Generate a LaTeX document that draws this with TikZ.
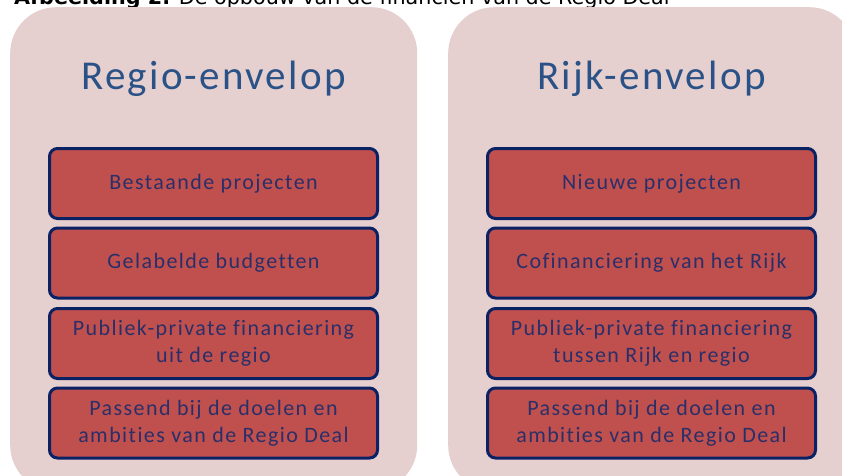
\documentclass[tikz,border=0pt]{standalone}
\usepackage{fontspec}
\setmainfont{Carlito}
\newfontfamily\capfont{DejaVu Sans}
\newfontfamily\titlefont[LetterSpace=5.5,Ligatures=NoCommon]{Carlito}
\newfontfamily\boxfont[LetterSpace=6.5,Ligatures=NoCommon]{Carlito}
\definecolor{panelfill}{HTML}{E6CFCF}
\definecolor{boxfill}{HTML}{C0504D}
\definecolor{boxline}{HTML}{0A2164}
\definecolor{boxtext}{HTML}{2A2F6A}
\definecolor{titleblue}{HTML}{2A5286}
\tikzset{
  panel/.style={fill=panelfill, draw=none, rounded corners=46pt, minimum width=407pt, minimum height=484pt, inner sep=0pt},
  itembox/.style={fill=boxfill, draw=boxline, line width=3pt, rounded corners=8pt, minimum width=328pt, minimum height=70pt, inner sep=0pt, align=center, text=boxtext, font=\boxfont\fontsize{22}{27}\selectfont},
  paneltitle/.style={text=titleblue, font=\titlefont\fontsize{41}{45}\selectfont, anchor=base, inner sep=0pt},
}
\begin{document}
\begin{tikzpicture}[x=1pt,y=-1pt]
\useasboundingbox (0,0) rectangle (842,475);
\clip (0,0) rectangle (842,475);
\fill[white] (0,0) rectangle (842,475);
\node[anchor=base west, inner sep=0pt, font=\capfont\fontsize{20.7}{22}\selectfont] (cap) at (14,4.3) {\textbf{Afbeelding 2.} De opbouw van de financiën van de Regio Deal};
\node[panel, anchor=north west] (lp) at (10,7) {};
\node[panel, anchor=north west] (rp) at (448,7) {};
\node[paneltitle] (lt) at (213.5,89.3) {Regio-envelop};
\node[paneltitle] (rt) at (651.5,89.3) {Rijk-envelop};
\node[itembox] (l1) at (213.5,183.5) {Bestaande projecten};
\node[itembox] (l2) at (213.5,263) {Gelabelde budgetten};
\node[itembox] (l3) at (213.5,343.5) {Publiek-private financiering\\uit de regio};
\node[itembox] (l4) at (213.5,423) {Passend bij de doelen en\\ambities van de Regio Deal};
\node[itembox] (r1) at (651.5,183.5) {Nieuwe projecten};
\node[itembox] (r2) at (651.5,263) {Cofinanciering van het Rijk};
\node[itembox] (r3) at (651.5,343.5) {Publiek-private financiering\\tussen Rijk en regio};
\node[itembox] (r4) at (651.5,423) {Passend bij de doelen en\\ambities van de Regio Deal};
\end{tikzpicture}
\end{document}
